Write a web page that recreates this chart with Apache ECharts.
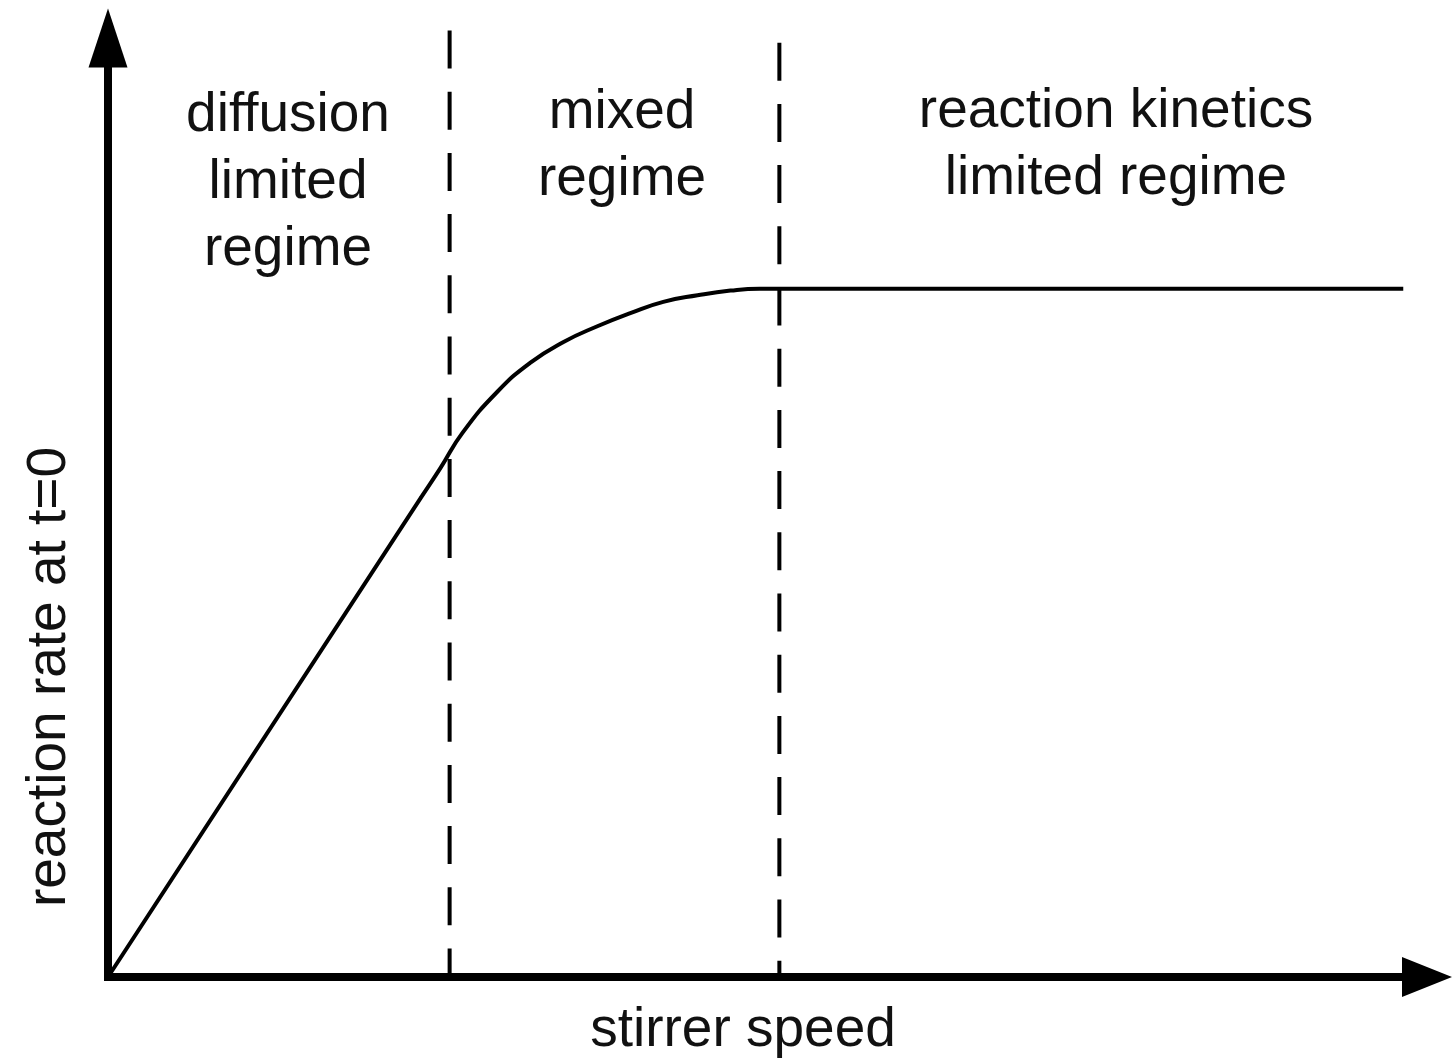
<!DOCTYPE html>
<html>
<head>
<meta charset="utf-8">
<script src="https://cdn.jsdelivr.net/npm/echarts@6/dist/echarts.min.js"></script>
<style>
  html, body { margin: 0; padding: 0; background: #fff; }
  #chart { width: 1452px; height: 1064px; }
</style>
</head>
<body>
<div id="chart"></div>
<script>
// 曲线数据 (stirrer speed -> reaction rate), 0..100 的相对单位
const speedPts = [0, 23.7, 25.2, 26.9, 29.5, 32.0, 34.5, 37.1, 39.6, 42.1, 44.7, 47.2, 49.4, 98.2];
const ratePts  = [0, 51.0, 54.2, 58.0, 62.3, 65.4, 67.6, 69.3, 70.7, 71.9, 72.6, 73.1, 73.3, 73.3];

// 分区虚线
const regimeBounds = [25.9, 50.9];
const boundTops = [100.8, 99.5];

const regimeLabels = ['diffusion\nlimited\nregime', 'mixed\nregime', 'reaction kinetics\nlimited regime'];
const xName = 'stirrer speed';
const yName = 'reaction rate at t=0';

const FONT = '"Liberation Sans", Arial, sans-serif';
const chart = echarts.init(document.getElementById('chart'));

const curve = speedPts.map((x, i) => [x, ratePts[i]]);

const dashSeries = regimeBounds.map((x, i) => ({
  type: 'line',
  data: [[x, boundTops[i]], [x, 0]],
  showSymbol: false,
  clip: false,
  silent: true,
  lineStyle: { color: '#000', width: 4, type: [38, 23.2] },
  z: 3
}));

const labelText = (text, x, y, extra) => Object.assign({
  type: 'text',
  x: x,
  y: y,
  silent: true,
  style: {
    text: text,
    fontSize: 55,
    fontFamily: FONT,
    fill: '#111',
    align: 'center',
    verticalAlign: 'top',
    lineHeight: 67
  }
}, extra || {});

const option = {
  backgroundColor: '#fff',
  animation: false,
  grid: { left: 108, right: 25, top: 38, bottom: 87, outerBoundsMode: 'none' },
  xAxis: {
    type: 'value',
    min: 0,
    max: 100,
    axisLine: {
      show: true,
      symbol: ['none', 'triangle'],
      symbolSize: [40, 50],
      lineStyle: { color: '#000', width: 8, cap: 'square' }
    },
    axisTick: { show: false },
    axisLabel: { show: false },
    splitLine: { show: false }
  },
  yAxis: {
    type: 'value',
    min: 0,
    max: 100,
    axisLine: {
      show: true,
      symbol: ['none', 'triangle'],
      symbolSize: [39, 59],
      lineStyle: { color: '#000', width: 8, cap: 'square' }
    },
    axisTick: { show: false },
    axisLabel: { show: false },
    splitLine: { show: false }
  },
  series: [{
    type: 'line',
    data: curve,
    smooth: 0.5,
    showSymbol: false,
    lineStyle: { color: '#000', width: 4 },
    z: 4
  }].concat(dashSeries),
  graphic: [
    labelText(regimeLabels[0], 288, 82),
    labelText(regimeLabels[1], 622, 79),
    labelText(regimeLabels[2], 1116, 78),
    labelText(xName, 743, 1031, {}),
    labelText(yName, 50, 677, { rotation: Math.PI / 2 })
  ]
};
// 单行文字用 middle 对齐
option.graphic[3].style.verticalAlign = 'middle';
option.graphic[4].style.verticalAlign = 'middle';

chart.setOption(option);
</script>
</body>
</html>
